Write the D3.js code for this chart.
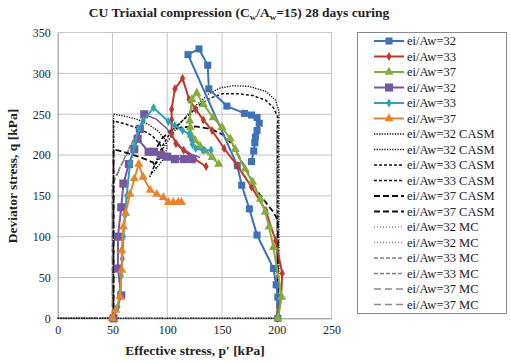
<!DOCTYPE html>
<html>
<head>
<meta charset="utf-8">
<script src="https://cdn.jsdelivr.net/npm/d3@7"></script>
<style>
  body { margin: 0; background: #fff; }
  svg text { font-family: "Liberation Serif", "Times New Roman", serif; fill: #222; }
</style>
</head>
<body>
<div id="app"></div>
<script>
// measured test paths [p', q]
const blue32 = [[201,0],[201,26],[199.5,41],[197,61],[182,102],[175,134],[168,163],[164,187],
  [119,323],[129,330],[137,310],[138,281],[154.5,260],[170.5,251],[177,249],[182,246],[184,239],
  [182,230],[180.5,222],[180,215],[179,205],[177,192]];
const red33 = [[201,0],[204,26],[205,55],[199,95],[190,132],[177,161],[164,187],[152,208],[141,230],
  [133,243],[126,256],[120,268],[114,294],[107,281],[104,256],[104,243],[104,226],[108,214],
  [115,206],[125,195],[135.5,186]];
const green37 = [[201,0],[204.5,26],[197,87],[193,112],[189.5,130],[185,146],[178,167],[171,183],
  [162,207],[157.5,220],[150,234],[142,246],[133,262],[127,276],[122.5,268],[120.5,242],[121,234],
  [122,224],[125.5,218],[130,211],[134.5,205],[141,197],[147,189]];
const purple32 = [[51,0],[58,28],[55,61],[55,100],[58,136],[60,165],[65,189],[70,207],[75,232],
  [79,250],[73,220],[83,204],[88,204],[94,200],[100,198],[107,195],[115,195],[122,195]];
const purple32Tail = [[79,250],[90,244],[100,232],[106,220],[113,209],[122,201],[130,197]];
const cyan33 = [[50,0],[55,14],[57,32],[58,52],[59,73],[60,100],[61.5,126],[63,150],[66,189],
  [70,211],[74,232],[78,242],[87.5,258],[101,241],[107,236],[114,230],[120,226],[122,219],
  [123,213],[126,208],[133,206],[140,206]];
const orange37 = [[50,0],[53,10],[57,27],[58.5,59],[58.5,83],[60,112],[62,129],[66,152],[70,171],
  [74,189],[78,173],[84.5,157],[90.5,152],[96.5,148],[101,142],[105.5,142],[110,142],[113,142]];

// model paths
const casm32 = [
  [[0,0],[51,0],[51,250],[60,248],[72,244],[82,238],[92,229],[98,219],[100,210],[97,196],[91,185],[85,176]],
  [[0,0],[202,0],[202,254],[199,267],[190,278],[175,284],[160,285],[148,282],[138,275],[124,258],[110,236],[97,210],[88,186]]
];
const casm33 = [
  [[51,0],[51,242],[62,238],[75,232],[86,224],[93,214],[96,206],[93,196],[88,186]],
  [[201,0],[201,246],[197,258],[190,267],[178,273],[165,275],[150,275],[140,270],[130,262],[118,247],[104,230],[96,212],[84,173]]
];
const casm37 = [
  [[51,0],[51,207],[57,205],[67,201],[76,197],[87,191],[90,184]],
  [[201,0],[201,120],[197,130],[190,142],[181,158],[173,180],[166,197],[160,212],[152,224],[140,232],
   [126,235],[113,234],[103,230],[95,220],[90,208]]
];
const mc32 = [[[0,0],[50,0],[50,166],[56,183],[63,203],[70,222]], [[0,0],[200,0],[200,240]]];
const mc33 = [[[0,0],[50,0],[50,164],[57,185],[64,205],[71,224]], [[0,0],[200,0],[200,235]]];
const mc37 = [[[0,0],[50,0],[50,163],[58,187],[66,209],[72,226]], [[0,0],[200,0],[200,230]]];

const xTicks = [0, 50, 100, 150, 200, 250];
const yTicks = [0, 50, 100, 150, 200, 250, 300, 350];
const legendLabels = ['ei/Aw=32','ei/Aw=33','ei/Aw=37','ei/Aw=32','ei/Aw=33','ei/Aw=37',
  'ei/Aw=32 CASM','ei/Aw=32 CASM','ei/Aw=33 CASM','ei/Aw=33 CASM','ei/Aw=37 CASM','ei/Aw=37 CASM',
  'ei/Aw=32 MC','ei/Aw=32 MC','ei/Aw=33 MC','ei/Aw=33 MC','ei/Aw=37 MC','ei/Aw=37 MC'];

const width = 511, height = 363;
const margin = { left: 57.7, right: 331.5, top: 32.6, bottom: 318.3 };

const svg = d3.select('#app').append('svg')
  .attr('width', width).attr('height', height);

const x = d3.scaleLinear().domain([0, 250]).range([margin.left, margin.right]);
const y = d3.scaleLinear().domain([0, 350]).range([margin.bottom, margin.top]);

// grid
svg.append('g').selectAll('line').data(xTicks.slice(1)).join('line')
  .attr('x1', d => x(d)).attr('x2', d => x(d))
  .attr('y1', y(0)).attr('y2', y(350))
  .attr('stroke', '#c4c4c4').attr('stroke-width', 1);
svg.append('g').selectAll('line').data(yTicks.slice(1)).join('line')
  .attr('x1', x(0)).attr('x2', x(250))
  .attr('y1', d => y(d)).attr('y2', d => y(d))
  .attr('stroke', '#c4c4c4').attr('stroke-width', 1);

// axes
const xAxis = d3.axisBottom(x).tickValues(xTicks).tickSize(0).tickPadding(7);
const yAxis = d3.axisLeft(y).tickValues(yTicks).tickSize(0).tickPadding(7);
const gx = svg.append('g').attr('transform', `translate(0,${y(0)})`).call(xAxis);
const gy = svg.append('g').attr('transform', `translate(${x(0)},0)`).call(yAxis);
[gx, gy].forEach(g => {
  g.select('.domain').attr('stroke', '#8a8a8a');
  g.selectAll('text').attr('font-size', 12).attr('fill', '#222')
    .attr('font-family', '"Liberation Serif", serif');
});

const line = d3.line().x(d => x(d[0])).y(d => y(d[1]));

// model lines
const modelStyles = [
  { data: mc32, color: '#8c8c8c', dash: '1,2', w: 1.3 },
  { data: mc33, color: '#808080', dash: '4,2', w: 1.4 },
  { data: mc37, color: '#8c8c8c', dash: '7,4', w: 1.6 },
  { data: casm32, color: '#111', dash: '1.3,1.3', w: 1.3 },
  { data: casm33, color: '#111', dash: '3,2', w: 1.5 },
  { data: casm37, color: '#111', dash: '6,3', w: 1.8 }
];
modelStyles.forEach(s => {
  s.data.forEach(path => {
    svg.append('path').attr('d', line(path)).attr('fill', 'none')
      .attr('stroke', s.color).attr('stroke-width', s.w).attr('stroke-dasharray', s.dash);
  });
});

// test series
const series = [
  { data: blue32, color: '#3f72b5', sym: d3.symbolSquare, size: 50 },
  { data: red33, color: '#c0392f', sym: d3.symbolDiamond, size: 24 },
  { data: green37, color: '#86ac3c', sym: d3.symbolTriangle, size: 36 },
  { data: purple32, color: '#7458a0', sym: d3.symbolSquare, size: 66 },
  { data: cyan33, color: '#2fa0b8', sym: d3.symbolDiamond, size: 24 },
  { data: orange37, color: '#e8832c', sym: d3.symbolTriangle, size: 36 }
];

svg.append('path').attr('d', line(purple32Tail)).attr('fill', 'none')
  .attr('stroke', '#7458a0').attr('stroke-width', 1.5);

series.forEach(s => {
  svg.append('path').attr('d', line(s.data)).attr('fill', 'none')
    .attr('stroke', s.color).attr('stroke-width', 2);
  svg.append('g').selectAll('path').data(s.data).join('path')
    .attr('d', d3.symbol().type(s.sym).size(s.size))
    .attr('transform', d => `translate(${x(d[0])},${y(d[1])})`)
    .attr('fill', s.color);
});

// legend
const legend = svg.append('g');
legend.append('rect').attr('x', 357.5).attr('y', 32.5).attr('width', 149).attr('height', 281)
  .attr('fill', '#fff').attr('stroke', '#8a8a8a');
const legendStyles = [
  series[0], series[1], series[2], series[3], series[4], series[5],
  modelStyles[3], modelStyles[3], modelStyles[4], modelStyles[4], modelStyles[5], modelStyles[5],
  modelStyles[0], modelStyles[0], modelStyles[1], modelStyles[1], modelStyles[2], modelStyles[2]
];
legendLabels.forEach((lab, i) => {
  const yy = 41 + i * 15.5;
  const st = legendStyles[i];
  const g = legend.append('g');
  if (st.sym) {
    g.append('line').attr('x1', 374).attr('x2', 404).attr('y1', yy).attr('y2', yy)
      .attr('stroke', st.color).attr('stroke-width', 2);
    g.append('path').attr('d', d3.symbol().type(st.sym).size(st.size))
      .attr('transform', `translate(389,${yy})`).attr('fill', st.color);
  } else {
    g.append('line').attr('x1', 374).attr('x2', 404).attr('y1', yy).attr('y2', yy)
      .attr('stroke', st.color).attr('stroke-width', st.w).attr('stroke-dasharray', st.dash);
  }
  g.append('text').attr('x', 407).attr('y', yy + 4.3).attr('font-size', 12.5).text(lab);
});

// title
const title = svg.append('text').attr('x', 239).attr('y', 17).attr('text-anchor', 'middle')
  .attr('font-size', 13.5).attr('font-weight', 'bold');
title.append('tspan').text('CU Triaxial compression (C');
title.append('tspan').attr('font-size', 9).attr('dy', 3).text('w');
title.append('tspan').attr('dy', -3).text('/A');
title.append('tspan').attr('font-size', 9).attr('dy', 3).text('w');
title.append('tspan').attr('dy', -3).text('=15) 28 days curing');

// axis titles
svg.append('text').attr('x', 195).attr('y', 355).attr('text-anchor', 'middle')
  .attr('font-size', 13.5).attr('font-weight', 'bold').text('Effective stress, p\u2032 [kPa]');
svg.append('text').attr('transform', 'translate(17,176) rotate(-90)').attr('text-anchor', 'middle')
  .attr('font-size', 13.5).attr('font-weight', 'bold').text('Deviator stress, q [kPa]');
</script>
</body>
</html>
